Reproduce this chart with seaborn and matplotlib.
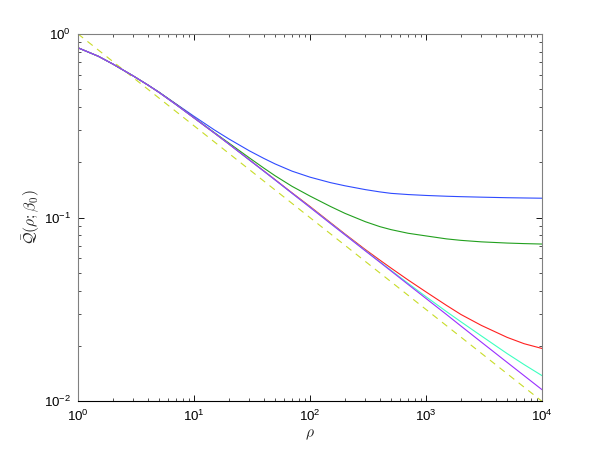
import matplotlib
matplotlib.use('Agg')
import matplotlib.pyplot as plt
import seaborn as sns
import numpy as np
import pandas as pd

# values (log-log axes)
rho = [1, 1.5, 2, 3, 4, 5, 7, 10, 15, 20, 30, 40, 50, 70, 100, 150, 200,
       300, 400, 500, 700, 1000, 1500, 2000, 3000, 5000, 7000, 10000]
q_blue = [0.84, 0.755, 0.685, 0.59, 0.528, 0.482, 0.416, 0.356, 0.300, 0.268,
          0.231, 0.210, 0.196, 0.179, 0.166, 0.155, 0.149, 0.142, 0.138,
          0.1355, 0.1335, 0.132, 0.1307, 0.130, 0.1292, 0.1283, 0.1279, 0.1275]
q_green = [0.84, 0.755, 0.685, 0.59, 0.527, 0.481, 0.414, 0.350, 0.290, 0.2545,
           0.2115, 0.186, 0.169, 0.148, 0.131, 0.115, 0.1055, 0.0950, 0.0893,
           0.0860, 0.0822, 0.0795, 0.0766, 0.0752, 0.0738, 0.0727, 0.0722, 0.0718]
q_red = [0.84, 0.755, 0.685, 0.59, 0.527, 0.480, 0.413, 0.349, 0.2885, 0.2515,
         0.2065, 0.1795, 0.161, 0.1365, 0.115, 0.0940, 0.0815, 0.0670, 0.0587,
         0.0531, 0.0458, 0.0394, 0.0333, 0.0297, 0.0259, 0.0223, 0.0206, 0.0194]
q_cyan = [0.84, 0.755, 0.685, 0.59, 0.527, 0.480, 0.412, 0.349, 0.2885, 0.2513,
          0.206, 0.179, 0.1604, 0.1358, 0.1141, 0.0933, 0.0809, 0.0662, 0.0575,
          0.0516, 0.0439, 0.0371, 0.0308, 0.0271, 0.0227, 0.0182, 0.01586, 0.0138]
q_purple = [0.84, 0.755, 0.685, 0.59, 0.527, 0.480, 0.412, 0.349, 0.2885, 0.2513,
            0.206, 0.179, 0.1604, 0.1357, 0.1137, 0.0929, 0.0806, 0.0659, 0.0572,
            0.0512, 0.0433, 0.0363, 0.0297, 0.0257, 0.0210, 0.0163, 0.0138, 0.01157]
rho_ref = [1, 10000]
q_ref = [1.0, 0.01]

series = {
    'blue': (q_blue, '#2f4bff'),
    'green': (q_green, '#22a01e'),
    'red': (q_red, '#ff2020'),
    'cyan': (q_cyan, '#3dffc0'),
    'purple': (q_purple, '#9a2fff'),
}

sns.set_style("ticks")
plt.rcParams['font.family'] = ['Liberation Sans', 'DejaVu Sans']
plt.rcParams['mathtext.fontset'] = 'cm'

fig = plt.figure(figsize=(599 / 80, 451 / 80), dpi=80)
ax = fig.add_axes([0.13, 0.11, 0.775, 0.815])

df = pd.DataFrame({'rho': rho_ref, 'q': q_ref})
sns.lineplot(data=df, x='rho', y='q', ax=ax, color='#c8dc28', lw=1.0,
             linestyle=(0, (6, 5)))
for name, (vals, col) in series.items():
    df = pd.DataFrame({'rho': rho, 'q': vals})
    sns.lineplot(data=df, x='rho', y='q', ax=ax, color=col, lw=1.0)

ax.set_xscale('log')
ax.set_yscale('log')
ax.set_xlim(1, 1e4)
ax.set_ylim(1e-2, 1)
ax.set_xlabel(r'$\rho$', fontsize=14, labelpad=2)
ax.set_ylabel(r'$\bar{\mathcal{Q}}(\rho;\beta_0)$', fontsize=14, labelpad=2)

ax.tick_params(which='both', direction='in', top=True, right=True,
               labelsize=12, colors='black')
ax.tick_params(axis='x', which='major', pad=7)
ax.tick_params(axis='y', which='major', pad=6)
ax.tick_params(which='major', length=5, width=0.8)
ax.tick_params(which='minor', length=3, width=0.6)
for side in ['left', 'top', 'right']:
    ax.spines[side].set_color('#808080')
ax.spines['bottom'].set_color('black')
for s in ax.spines.values():
    s.set_linewidth(1.0)

fig.savefig('out.png', dpi=80, facecolor='white')
